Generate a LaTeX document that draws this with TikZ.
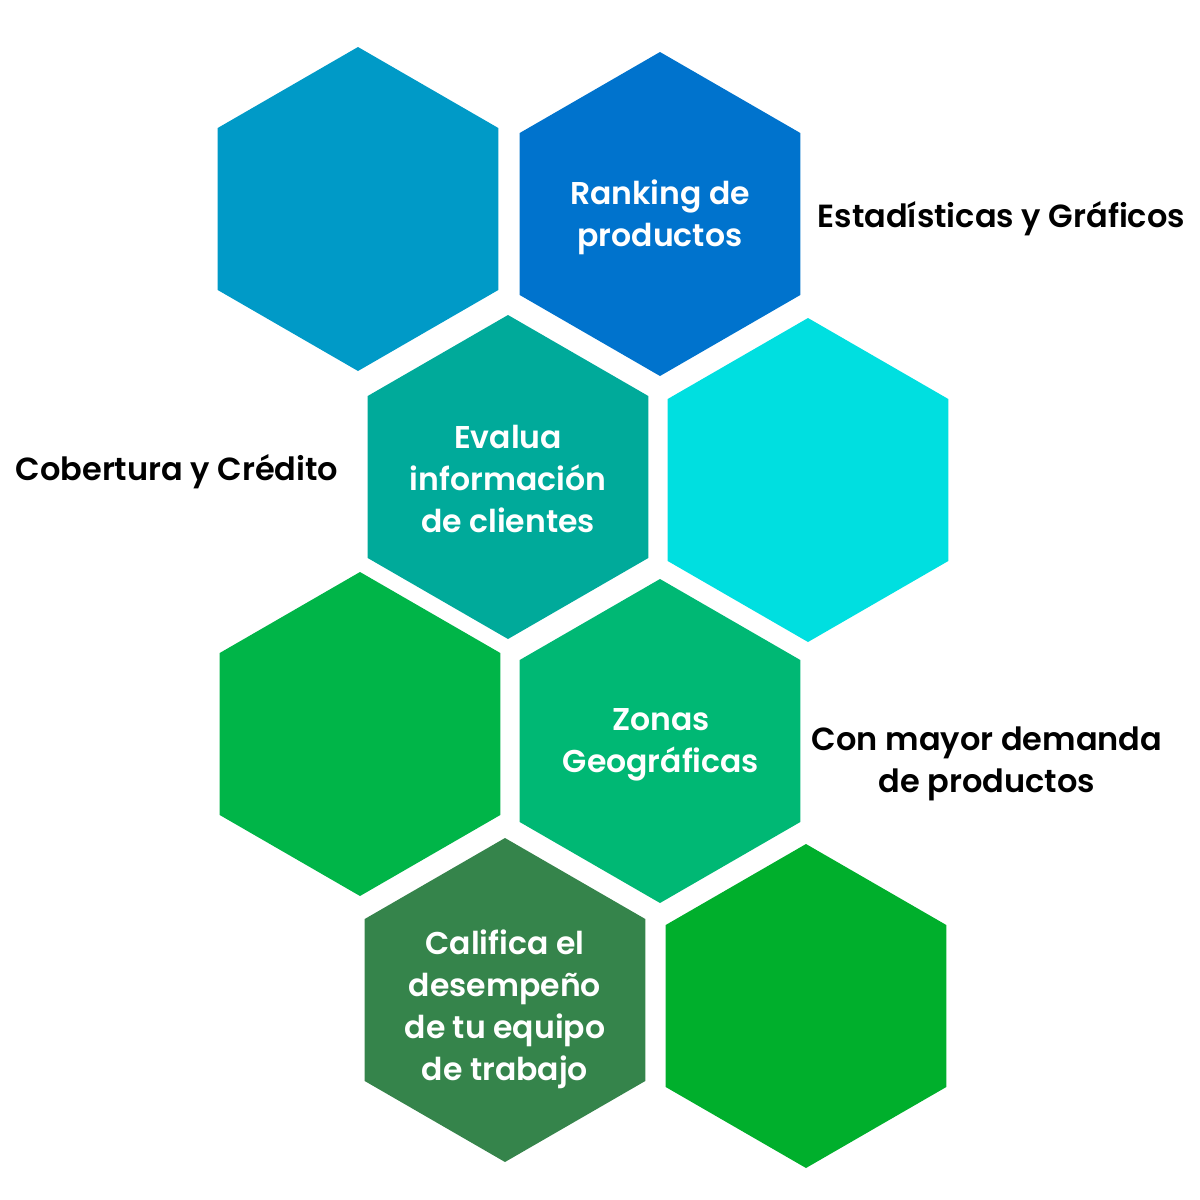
\documentclass[tikz,border=0pt]{standalone}
\usepackage{fontspec}
\setmainfont{Poppins}[BoldFont={Poppins SemiBold}]
\usetikzlibrary{shapes.geometric}
\definecolor{cA}{HTML}{009AC7}
\definecolor{cB}{HTML}{0073CD}
\definecolor{cC}{HTML}{00AA9A}
\definecolor{cD}{HTML}{00DFE0}
\definecolor{cE}{HTML}{00B548}
\definecolor{cF}{HTML}{00B874}
\definecolor{cG}{HTML}{35844B}
\definecolor{cH}{HTML}{00AF2C}
\tikzset{
  hexa/.style={regular polygon, regular polygon sides=6, shape border rotate=30,
    minimum size=324pt, inner sep=0pt, draw=none, fill=#1},
  intext/.style={text=white, font=\bfseries\fontsize{31.5}{42}\selectfont, align=center},
  outtext/.style={text=black, font=\bfseries\fontsize{32}{42}\selectfont, align=center},
}
\begin{document}
\begin{tikzpicture}[x=1pt,y=-1pt]
\useasboundingbox (0,0) rectangle (1200,1200);
\node[hexa=cA] (h1) at (358,209) {};
\node[hexa=cB] (h2) at (660,214) {};
\node[hexa=cC] (h3) at (508,477) {};
\node[hexa=cD] (h4) at (808,480) {};
\node[hexa=cE] (h5) at (360,734) {};
\node[hexa=cF] (h6) at (660,741) {};
\node[hexa=cG] (h7) at (505,1000) {};
\node[hexa=cH] (h8) at (806,1006) {};
\node[intext] (t2) at (660,217) {Ranking de\\productos};
\node[intext] (t3) at (508,479) {Evalua\\información\\de clientes};
\node[intext] (t6) at (661,745) {Zonas\\Geográficas};
\node[intext] (t7) at (505,1009) {Califica el\\desempeño\\de tu equipo\\de trabajo};
\node[outtext, anchor=west] (o1) at (814,219) {Estadísticas y Gráficos};
\node[outtext] (o2) at (177,472) {Cobertura y Crédito};
\node[outtext] (o3) at (987,764) {Con mayor demanda\\de productos};
\end{tikzpicture}
\end{document}
